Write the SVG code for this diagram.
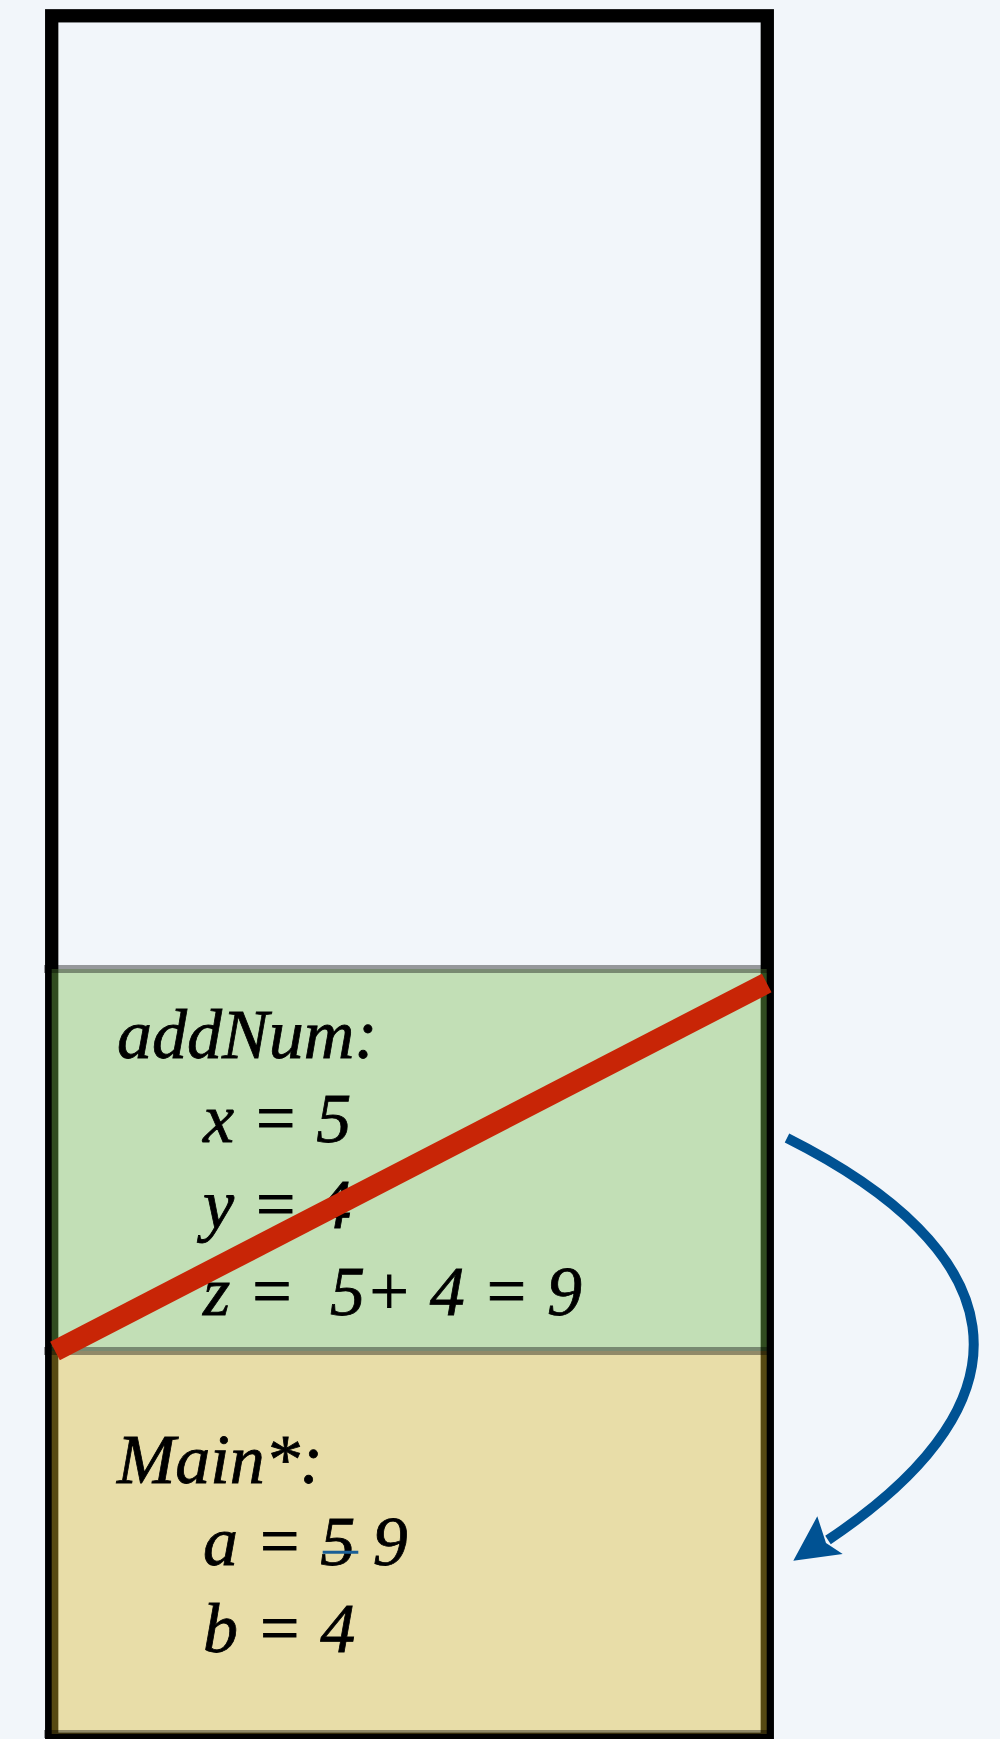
<svg xmlns="http://www.w3.org/2000/svg" width="1000" height="1739" viewBox="0 0 1000 1739">
  <style>
    .lbl { font-family: "Liberation Serif", "Times New Roman", serif; font-style: italic; font-size: 70px; fill: #000; stroke: #000; stroke-width: 0.8; white-space: pre; }
    .sep { stroke: #000; stroke-opacity: 0.38; stroke-width: 8; fill: none; }
  </style>
  <rect x="0" y="0" width="1000" height="1739" fill="#f2f6fa"/>
  <g id="stack">
    <rect x="51.7" y="15.8" width="715.6" height="1723.5" fill="none" stroke="#000" stroke-width="13.3"/>
  </g>
  <g id="frame-addNum">
    <rect x="51.7" y="969" width="715" height="382" fill="#7abd51" fill-opacity="0.4"/>
    <line class="sep" x1="44" y1="969" x2="767" y2="969"/>
    <text class="lbl" x="117" y="1058">addNum:</text>
    <text class="lbl" x="203" y="1142">x = 5</text>
    <text class="lbl" x="203" y="1228">y = 4</text>
    <text class="lbl" x="203" y="1315">z =  5+ 4 = 9</text>
  </g>
  <g id="frame-main">
    <rect x="51.7" y="1351" width="715" height="383" fill="#d9ba2d" fill-opacity="0.4"/>
    <line class="sep" x1="44" y1="1351" x2="767" y2="1351" stroke-opacity="0.6"/>
    <line class="sep" x1="44" y1="1734" x2="767" y2="1734"/>
    <text class="lbl" x="117" y="1483">Main*:</text>
    <text class="lbl" x="203" y="1565">a = 5 9</text>
    <line x1="322.7" y1="1552.3" x2="358.3" y2="1552.3" stroke="#1a5e96" stroke-width="3"/>
    <text class="lbl" x="203" y="1652">b = 4</text>
  </g>
  <g id="connectors">
    <line x1="55" y1="1351" x2="766.7" y2="983" stroke="#c82506" stroke-width="21"/>
    <path d="M787,1138 C1010,1250 1045,1395 828,1540" fill="none" stroke="#005293" stroke-width="10"/>
    <polygon points="793.3,1560.7 817.3,1516.3 826,1543 842.7,1554" fill="#005293"/>
  </g>
</svg>
